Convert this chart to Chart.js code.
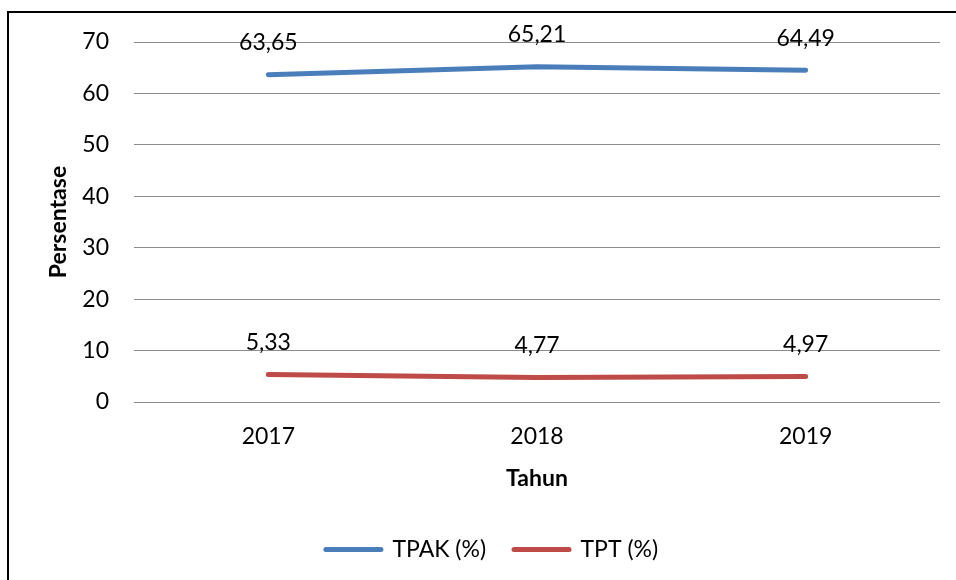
<!DOCTYPE html>
<html>
<head>
<meta charset="utf-8">
<script src="https://cdn.jsdelivr.net/npm/chart.js@4/dist/chart.umd.min.js"></script>
<style>
  html, body { margin: 0; padding: 0; background: #fff; overflow: hidden; }
  #frame { position: absolute; left: 7px; top: 11px; width: 1000px; height: 1000px; border: 2px solid #000; }
  #wrap { position: absolute; left: 0; top: 0; width: 956px; height: 580px; }
</style>
</head>
<body>
<div id="frame"></div>
<div id="wrap"><canvas id="chart"></canvas></div>
<script>
// ========================== DATA ==========================
const years = ["2017", "2018", "2019"];
const tpak = [63.65, 65.21, 64.49];
const tpt = [5.33, 4.77, 4.97];
const yTicks = [0, 10, 20, 30, 40, 50, 60, 70];

// ========================== STYLE ==========================
const FONT = "Lato";
const BLUE = "#4a7ebb";
const RED = "#be4b48";

// ========================== LABEL PLUGIN ==========================
// draws the value above each point, Excel style with comma decimals
const valueLabels = {
  id: "valueLabels",
  afterDatasetsDraw(chart) {
    const ctx = chart.ctx;
    ctx.save();
    ctx.font = "23px " + FONT;
    ctx.fillStyle = "#000";
    ctx.textAlign = "center";
    ctx.textBaseline = "middle";
    chart.data.datasets.forEach((ds, i) => {
      chart.getDatasetMeta(i).data.forEach((pt, j) => {
        ctx.fillText(ds.data[j].toFixed(2).replace(".", ","), pt.x, pt.y - 32);
      });
    });
    ctx.restore();
  }
};

// ========================== CHART ==========================
new Chart(document.getElementById("chart"), {
  type: "line",
  data: {
    labels: years,
    datasets: [
      { label: "TPAK (%)", data: tpak, borderColor: BLUE, backgroundColor: BLUE },
      { label: "TPT (%)", data: tpt, borderColor: RED, backgroundColor: RED }
    ]
  },
  options: {
    responsive: true,
    maintainAspectRatio: false,
    animation: false,
    layout: { padding: { top: 42, right: 16, bottom: 9, left: 44 } },
    elements: {
      line: { borderWidth: 5, borderCapStyle: "round", tension: 0 },
      point: { radius: 0, hoverRadius: 0 }
    },
    scales: {
      x: {
        offset: true,
        afterFit: s => { s.height = 108; },
        grid: { display: false, drawTicks: false },
        border: { display: false },
        ticks: { color: "#000", font: { family: FONT, size: 23 }, padding: 21 },
        title: { display: true, text: "Tahun", color: "#000", font: { family: FONT, size: 23, weight: "bold" }, padding: { top: 0, bottom: 18 } }
      },
      y: {
        min: 0,
        max: 70,
        afterBuildTicks: s => { s.ticks = yTicks.map(v => ({ value: v })); },
        afterFit: s => { s.width = 90; },
        grid: { color: "#8c8c8c", lineWidth: 1, drawTicks: false },
        border: { display: false },
        ticks: { color: "#000", font: { family: FONT, size: 23 }, padding: 25 },
        title: { display: true, text: "Persentase", color: "#000", font: { family: FONT, size: 23, weight: "bold" }, padding: { top: 1, bottom: 0 } }
      }
    },
    plugins: {
      tooltip: { enabled: false },
      legend: {
        position: "bottom",
        labels: {
          usePointStyle: true,
          pointStyle: "line",
          pointStyleWidth: 55,
          color: "#000",
          font: { family: FONT, size: 23 },
          padding: 28,
          generateLabels: c => Chart.defaults.plugins.legend.labels.generateLabels(c)
            .map(l => ({ ...l, lineWidth: 5, lineCap: "round" }))
        }
      }
    }
  },
  plugins: [valueLabels]
});
</script>
</body>
</html>
